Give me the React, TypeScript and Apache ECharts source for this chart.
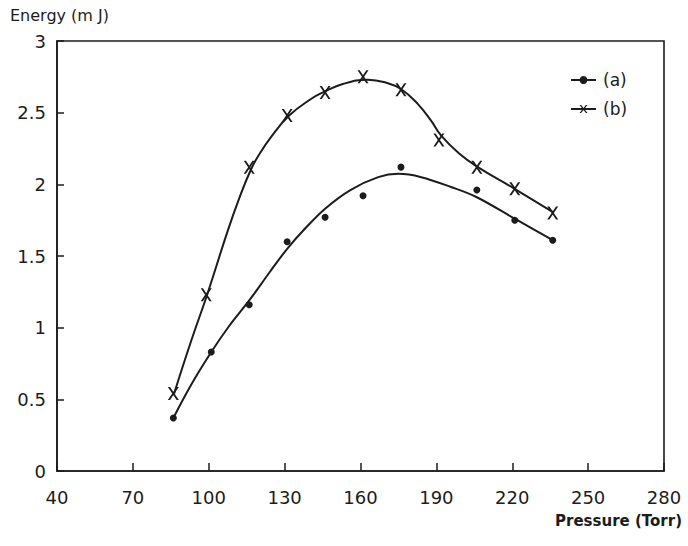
import React, { useEffect, useRef } from "react";
import * as echarts from "echarts";

// Measured points (Pressure in Torr, Energy in mJ)
const pressureA = [86, 101, 116, 131, 146, 161, 176, 206, 221, 236];
const energyA = [0.37, 0.83, 1.16, 1.6, 1.77, 1.92, 2.12, 1.96, 1.75, 1.61];
const pressureB = [86, 99, 116, 131, 146, 161, 176, 191, 206, 221, 236];
const energyB = [0.54, 1.23, 2.12, 2.48, 2.64, 2.75, 2.66, 2.31, 2.12, 1.97, 1.8];

// Hand-drawn fitted curves
const curveAx = [86, 93, 101, 108, 116, 124, 131, 138, 146, 156, 167, 175, 184, 196, 206, 221, 236];
const curveAy = [0.37, 0.6, 0.83, 1.01, 1.19, 1.385, 1.55, 1.69, 1.83, 1.96, 2.05, 2.073, 2.05, 1.98, 1.91, 1.76, 1.61];
const curveBx = [86.3, 92.9, 99.5, 107.4, 112, 116.6, 120, 124.6, 131.8, 140.4, 145, 153, 162.9, 170, 176, 182.7, 187.9, 191.9, 199, 206.4, 220.9, 236.1];
const curveBy = [0.54, 0.9, 1.237, 1.67, 1.9, 2.1, 2.21, 2.33, 2.48, 2.595, 2.64, 2.7, 2.73, 2.71, 2.665, 2.56, 2.444, 2.34, 2.215, 2.12, 1.969, 1.806];

const xTicks = [40, 70, 100, 130, 160, 190, 220, 250, 280];
const yTicks = [0, 0.5, 1, 1.5, 2, 2.5, 3];
const seriesNames = ["(a)", "(b)"];

const INK = "#1c1c1c";
const FONT = "DejaVu Sans";
const CROSS = "path://M0,0L2,0L10,12L8,12ZM8,0L10,0L2,12L0,12Z";

const zip = (xs: number[], ys: number[]) => xs.map((x, i) => [x, ys[i]]);

export default function App() {
  const ref = useRef<HTMLDivElement>(null);
  useEffect(() => {
    if (!ref.current) return;
    const chart = echarts.init(ref.current, undefined, { renderer: "svg" });
    chart.setOption({
      animation: false,
      backgroundColor: "#ffffff",
      grid: {
        left: 57,
        right: 24,
        top: 41,
        bottom: 75,
        show: true,
        borderColor: INK,
        borderWidth: 1.6,
      },
      legend: {
        data: seriesNames,
        orient: "vertical",
        left: 565,
        top: 65,
        itemWidth: 25,
        itemHeight: 10,
        itemGap: 9,
        textStyle: {
          fontFamily: FONT,
          fontSize: 17,
          color: INK,
          lineHeight: 20,
          padding: [0, 0, 0, 2],
        },
        itemStyle: { borderWidth: 0 },
      },
      xAxis: {
        type: "value",
        min: 40,
        max: 280,
        interval: 30,
        axisLine: { show: true, onZero: false, lineStyle: { color: INK, width: 1.6 } },
        axisTick: { show: true, inside: true, length: 8, lineStyle: { color: INK, width: 1.5 } },
        axisLabel: {
          fontFamily: FONT,
          fontSize: 18,
          color: INK,
          margin: 17,
          formatter: (v: number) => (xTicks.includes(v) ? String(v) : ""),
        },
        splitLine: { show: false },
      },
      yAxis: {
        type: "value",
        min: 0,
        max: 3,
        interval: 0.5,
        axisLine: { show: true, lineStyle: { color: INK, width: 1.6 } },
        axisTick: { show: true, inside: true, length: 7, lineStyle: { color: INK, width: 1.5 } },
        axisLabel: {
          fontFamily: FONT,
          fontSize: 18,
          color: INK,
          margin: 11,
          formatter: (v: number) => (yTicks.includes(v) ? String(v) : ""),
        },
        splitLine: { show: false },
      },
      graphic: [
        {
          type: "text",
          left: 10,
          top: 7,
          style: {
            text: "Energy (m J)",
            fontFamily: FONT,
            fontSize: 16,
            fill: INK,
          },
        },
        {
          type: "text",
          right: 6,
          top: 513,
          style: {
            text: "Pressure (Torr)",
            fontFamily: FONT,
            fontSize: 15,
            fontWeight: "bold",
            fill: INK,
          },
        },
      ],
      series: [
        {
          name: "(a)",
          type: "line",
          data: zip(curveAx, curveAy),
          smooth: 0.35,
          symbol: "circle",
          symbolSize: 6,
          showSymbol: false,
          itemStyle: { color: INK },
          lineStyle: { color: INK, width: 2 },
          z: 2,
        },
        {
          name: "(b)",
          type: "line",
          data: zip(curveBx, curveBy),
          smooth: 0.45,
          symbol: CROSS,
          symbolSize: [11, 13],
          showSymbol: false,
          itemStyle: { color: INK },
          lineStyle: { color: INK, width: 2 },
          z: 2,
        },
        {
          name: "points a",
          type: "scatter",
          data: zip(pressureA, energyA),
          symbol: "circle",
          symbolSize: 7,
          itemStyle: { color: INK, opacity: 1 },
          z: 3,
        },
        {
          name: "points b",
          type: "scatter",
          data: zip(pressureB, energyB),
          symbol: CROSS,
          symbolSize: [11, 13],
          itemStyle: { color: INK, opacity: 1 },
          z: 3,
        },
      ],
    });
    return () => chart.dispose();
  }, []);
  return (
    <div
      ref={ref}
      style={{ position: "fixed", left: 0, top: 0, width: 688, height: 546, background: "#fff" }}
    />
  );
}
